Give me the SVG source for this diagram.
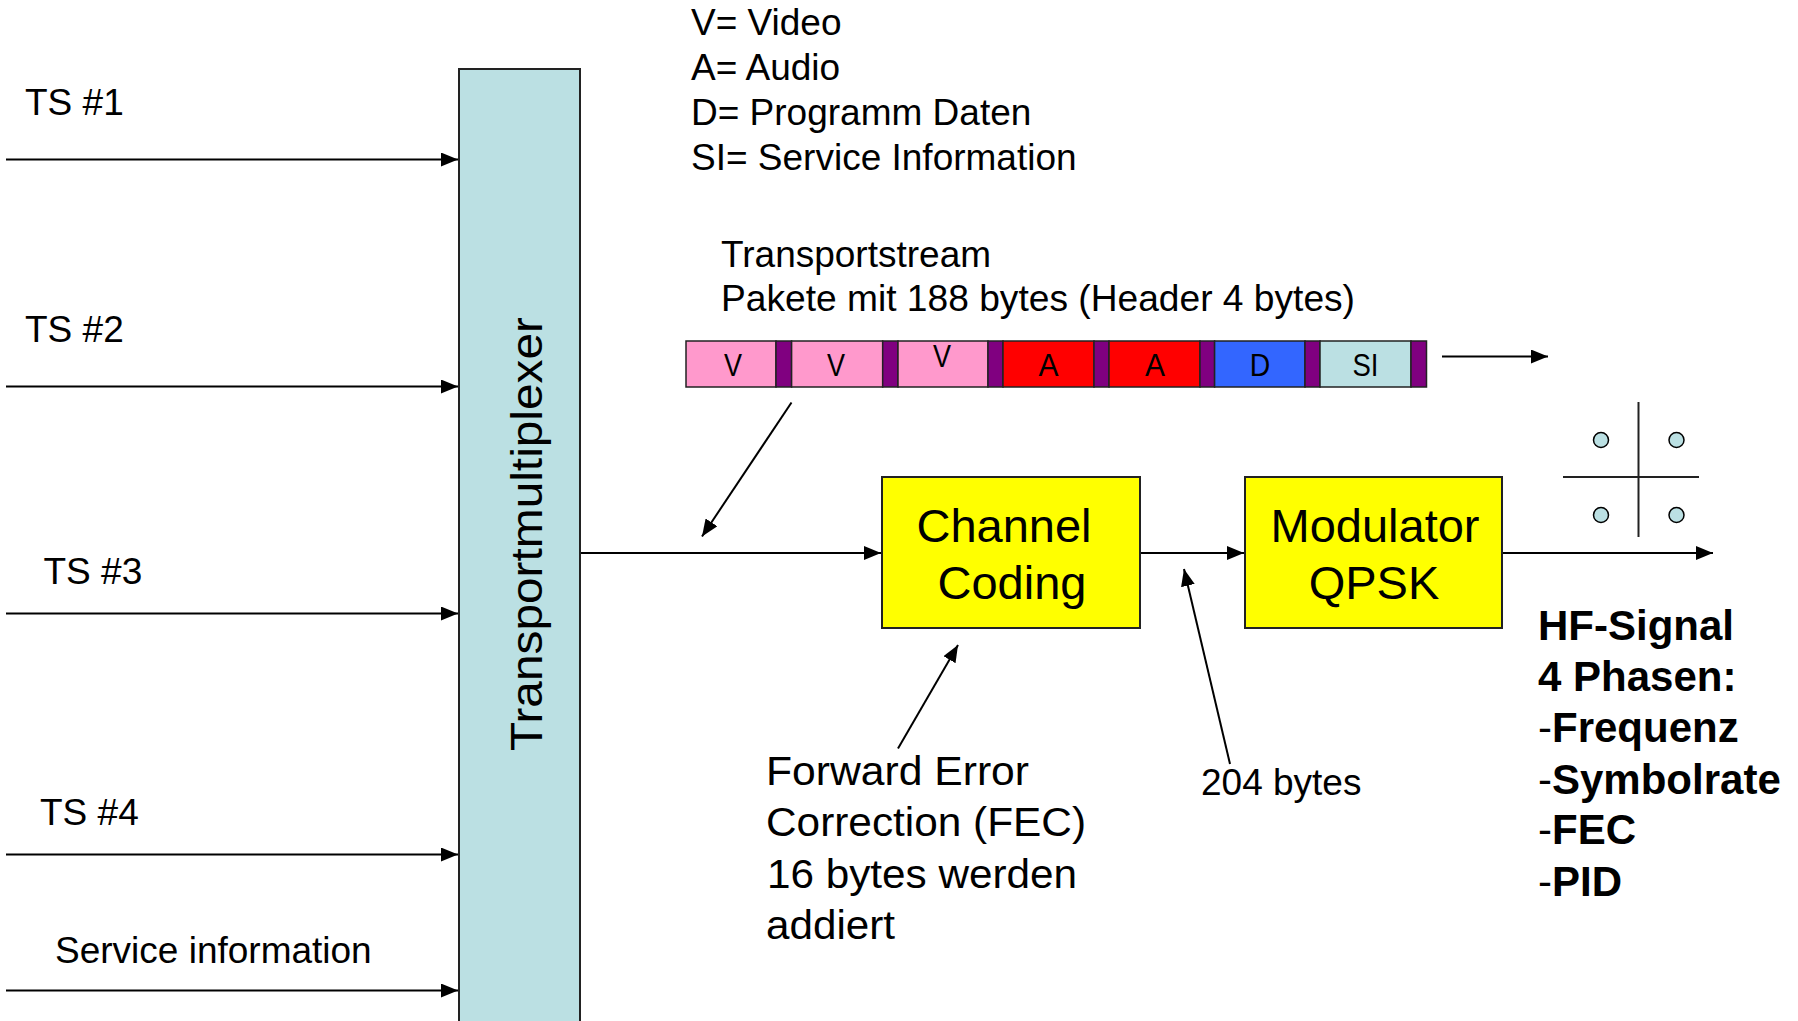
<svg xmlns="http://www.w3.org/2000/svg" width="1798" height="1021" viewBox="0 0 1798 1021">
<defs>
<style>
text { font-family: "Liberation Sans", Arial, sans-serif; fill: #000; }
.lbl { font-size: 37px; }
.leg { font-size: 37px; }
.box { font-size: 47px; text-anchor: middle; }
.pk { font-size: 32px; text-anchor: middle; }
.hf { font-size: 42px; font-weight: bold; }
.fec { font-size: 40px; }
.conn { stroke: #000; stroke-width: 2; fill: none; }
.arr { marker-end: url(#ah); }
.seg { stroke: #222; stroke-width: 1.5; }
.sep { fill: #800080; stroke: #222; stroke-width: 1.5; }
.ybox { fill: #FFFF00; stroke: #222; stroke-width: 2; }
.dot { fill: #BBE0E3; stroke: #000; stroke-width: 1.5; }
.axis { stroke: #222; stroke-width: 2; }
</style>
<marker id="ah" markerUnits="userSpaceOnUse" markerWidth="17" markerHeight="14" refX="17" refY="7" orient="auto">
<path d="M0,0 L17,7 L0,14 z" fill="#000"/>
</marker>
</defs>
<rect width="1798" height="1021" fill="#fff"/>

<g id="connectors">
<line class="conn arr" x1="6" y1="159.5" x2="458" y2="159.5"/>
<line class="conn arr" x1="6" y1="386.5" x2="458" y2="386.5"/>
<line class="conn arr" x1="6" y1="613.5" x2="458" y2="613.5"/>
<line class="conn arr" x1="6" y1="854.5" x2="458" y2="854.5"/>
<line class="conn arr" x1="6" y1="990.5" x2="458" y2="990.5"/>
<line class="conn arr" x1="580" y1="553" x2="881" y2="553"/>
<line class="conn arr" x1="1140" y1="553" x2="1244" y2="553"/>
<line class="conn arr" x1="1502" y1="553" x2="1713" y2="553"/>
<line class="conn arr" x1="1442" y1="356.5" x2="1548" y2="356.5"/>
<line class="conn arr" x1="791.5" y1="402.5" x2="702" y2="536.5"/>
<line class="conn arr" x1="898" y1="748.5" x2="958" y2="645"/>
<line class="conn arr" x1="1230" y1="764" x2="1184" y2="569"/>
</g>

<g id="ts-labels">
<text class="lbl" x="25" y="114.5">TS #1</text>
<text class="lbl" x="25" y="341.5">TS #2</text>
<text class="lbl" x="43.5" y="583.5">TS #3</text>
<text class="lbl" x="40" y="824.5">TS #4</text>
<text x="55" y="962.5" font-size="37">Service information</text>
</g>

<g id="multiplexer">
<rect x="459" y="69" width="121" height="980" fill="#BBE0E3" stroke="#222" stroke-width="2"/>
<text transform="translate(542,534) rotate(-90)" text-anchor="middle" font-size="45" textLength="434" lengthAdjust="spacingAndGlyphs">Transportmultiplexer</text>
</g>

<g id="legend">
<text class="leg" x="691" y="34.5">V= Video</text>
<text class="leg" x="691" y="80">A= Audio</text>
<text class="leg" x="691" y="125">D= Programm Daten</text>
<text class="leg" x="691" y="170">SI= Service Information</text>
</g>

<g id="transportstream-label">
<text class="leg" x="721" y="266.5">Transportstream</text>
<text class="leg" x="721" y="310.5" textLength="634" lengthAdjust="spacingAndGlyphs">Pakete mit 188 bytes (Header 4 bytes)</text>
</g>

<g id="packet-bar">
<rect class="seg" x="686" y="341" width="90" height="46" fill="#FF99CC"/>
<rect class="sep" x="776" y="341" width="15.6" height="46"/>
<rect class="seg" x="791.6" y="341" width="91.1" height="46" fill="#FF99CC"/>
<rect class="sep" x="882.7" y="341" width="15.3" height="46"/>
<rect class="seg" x="898" y="341" width="90" height="46" fill="#FF99CC"/>
<rect class="sep" x="988" y="341" width="15" height="46"/>
<rect class="seg" x="1003" y="341" width="91" height="46" fill="#FF0000"/>
<rect class="sep" x="1094" y="341" width="15" height="46"/>
<rect class="seg" x="1109" y="341" width="91" height="46" fill="#FF0000"/>
<rect class="sep" x="1200" y="341" width="14.6" height="46"/>
<rect class="seg" x="1214.6" y="341" width="90.4" height="46" fill="#3366FF"/>
<rect class="sep" x="1305" y="341" width="15" height="46"/>
<rect class="seg" x="1320" y="341" width="91" height="46" fill="#BBE0E3"/>
<rect class="sep" x="1411" y="341" width="15.5" height="46"/>
<text class="pk" x="733" y="376" textLength="18" lengthAdjust="spacingAndGlyphs">V</text>
<text class="pk" x="836" y="376" textLength="18" lengthAdjust="spacingAndGlyphs">V</text>
<text class="pk" x="942" y="366.5" textLength="18" lengthAdjust="spacingAndGlyphs">V</text>
<text class="pk" x="1048.5" y="376" textLength="20" lengthAdjust="spacingAndGlyphs">A</text>
<text class="pk" x="1155" y="376" textLength="20" lengthAdjust="spacingAndGlyphs">A</text>
<text class="pk" x="1260" y="376" textLength="20.5" lengthAdjust="spacingAndGlyphs">D</text>
<text class="pk" x="1365.5" y="376" textLength="26" lengthAdjust="spacingAndGlyphs">SI</text>
</g>

<g id="channel-coding">
<rect class="ybox" x="882" y="477" width="258" height="151"/>
<text class="box" x="1004" y="542">Channel</text>
<text class="box" x="1012" y="598.5">Coding</text>
</g>

<g id="modulator">
<rect class="ybox" x="1245" y="477" width="257" height="151"/>
<text class="box" x="1375" y="542">Modulator</text>
<text class="box" x="1374" y="599">QPSK</text>
</g>

<g id="constellation">
<line class="axis" x1="1638.5" y1="402" x2="1638.5" y2="537"/>
<line class="axis" x1="1563" y1="477" x2="1699" y2="477"/>
<circle class="dot" cx="1601" cy="440" r="7.5"/>
<circle class="dot" cx="1676.5" cy="440" r="7.5"/>
<circle class="dot" cx="1601" cy="515" r="7.5"/>
<circle class="dot" cx="1676.5" cy="515" r="7.5"/>
</g>

<g id="fec-label">
<text class="fec" x="766" y="785" textLength="263" lengthAdjust="spacingAndGlyphs">Forward Error</text>
<text class="fec" x="766" y="836" textLength="320" lengthAdjust="spacingAndGlyphs">Correction (FEC)</text>
<text class="fec" x="767" y="888" textLength="310" lengthAdjust="spacingAndGlyphs">16 bytes werden</text>
<text class="fec" x="766" y="938.5" textLength="129" lengthAdjust="spacingAndGlyphs">addiert</text>
</g>

<g id="bytes-label">
<text x="1201" y="795" font-size="37">204 bytes</text>
</g>

<g id="hf-signal">
<text class="hf" x="1538" y="640">HF-Signal</text>
<text class="hf" x="1538" y="690.5">4 Phasen:</text>
<text class="hf" x="1538" y="742"><tspan font-weight="normal">-</tspan>Frequenz</text>
<text class="hf" x="1538" y="793.5"><tspan font-weight="normal">-</tspan>Symbolrate</text>
<text class="hf" x="1538" y="844"><tspan font-weight="normal">-</tspan>FEC</text>
<text class="hf" x="1538" y="895.5"><tspan font-weight="normal">-</tspan>PID</text>
</g>
</svg>
